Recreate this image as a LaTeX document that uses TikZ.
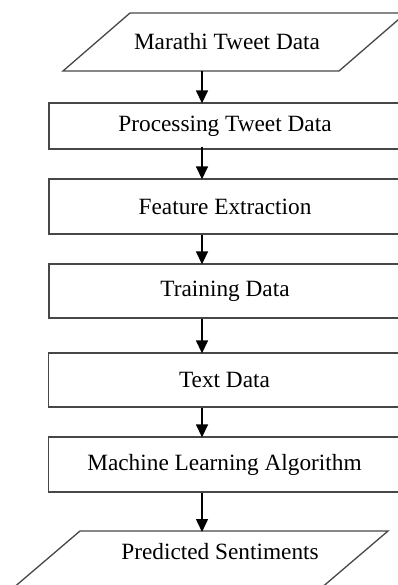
\documentclass[tikz,border=0pt]{standalone}
\usepackage{fontspec}
\setmainfont{Liberation Serif}
\usetikzlibrary{arrows.meta}
\begin{document}
\begin{tikzpicture}[x=1pt,y=-1pt,
  line/.style={draw=black!72,line width=1.3pt},
  procbox/.style={line,rectangle,minimum width=352pt,inner sep=0pt,font=\fontsize{23.3}{28}\selectfont},
  lbl/.style={font=\fontsize{23.3}{28}\selectfont,inner sep=0pt},
  arr/.style={draw=black,line width=1.4pt,-{Triangle[length=13pt,width=12pt]},shorten >=-1pt}]
\useasboundingbox (0,0) rectangle (398,585);
\clip (0,0) rectangle (398,585);
\fill[white] (0,0) rectangle (398,585);
% input parallelogram
\draw[line] (130,13) -- (406,13) -- (339,71) -- (63,71) -- cycle;
\node[lbl,anchor=base] (in) at (227,50) {Marathi Tweet Data};
\coordinate (inb) at (202,71);
% boxes
\node[procbox,minimum height=46pt] (b1) at (225,126) {Processing Tweet Data};
\node[procbox,minimum height=55pt] (b2) at (225,206.5) {Feature Extraction};
\node[procbox,minimum height=54pt] (b3) at (225,291) {Training Data};
\node[procbox,minimum height=54pt] (b4) at (224.5,380) {Text Data};
\node[procbox,minimum height=55pt] (b5) at (224.5,464.5) {Machine Learning Algorithm};
% output parallelogram
\draw[line] (80,531) -- (388,531) -- (320,589) -- (12,589) -- cycle;
\node[lbl,anchor=base] (out) at (220,559) {Predicted Sentiments};
\coordinate (outt) at (202,531);
\coordinate (ax) at (202,0);
% arrows
\draw[arr] (inb) -- (b1.north -| ax);
\draw[arr] ([yshift=3pt]b1.south -| ax) -- (b2.north -| ax);
\draw[arr] (b2.south -| ax) -- (b3.north -| ax);
\draw[arr] (b3.south -| ax) -- (b4.north -| ax);
\draw[arr] (b4.south -| ax) -- (b5.north -| ax);
\draw[arr] (b5.south -| ax) -- (outt);
\end{tikzpicture}
\end{document}
